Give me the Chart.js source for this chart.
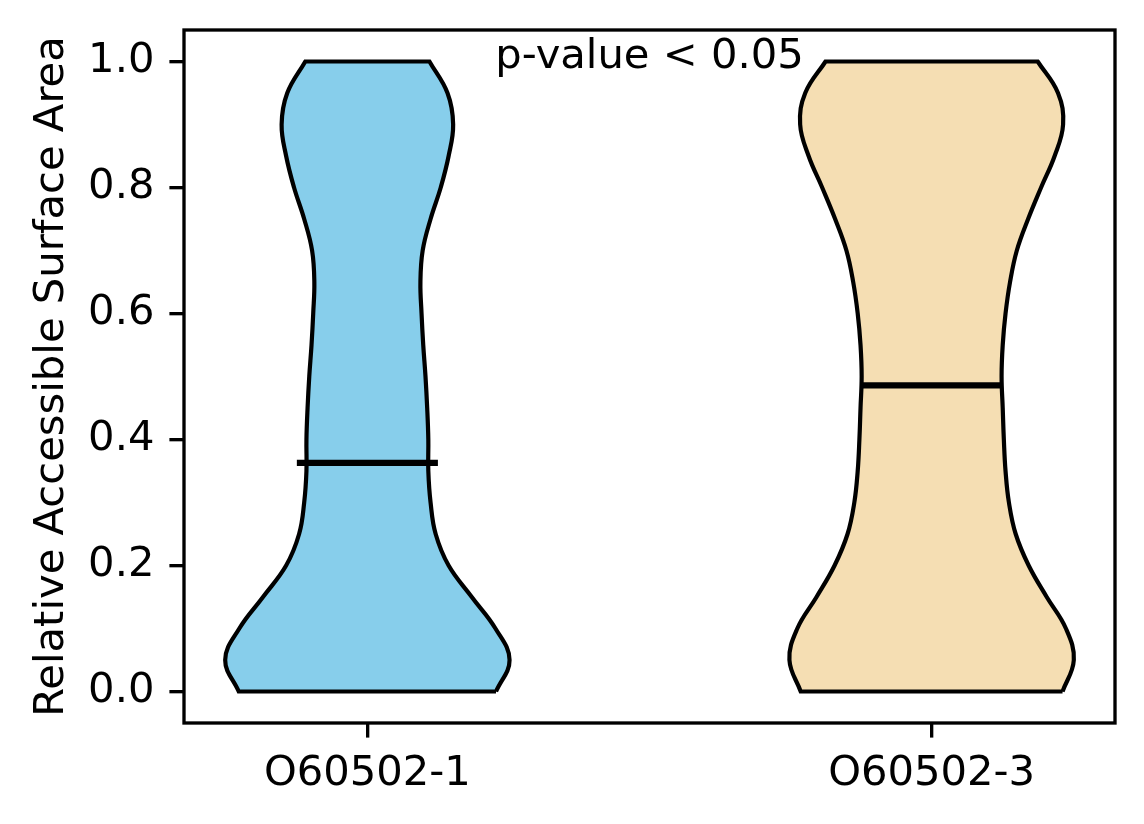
<!DOCTYPE html>
<html>
<head>
<meta charset="utf-8">
<script src="https://cdn.jsdelivr.net/npm/chart.js@4/dist/chart.umd.min.js"></script>
<style>
  body { margin: 0; background: #fff; }
  #wrap { width: 1144px; height: 824px; }
</style>
</head>
<body>
<div id="wrap"><canvas id="violin" width="1144" height="824"></canvas></div>
<script>
// groups and where they sit on the x axis
const categories = ['O60502-1', 'O60502-3'];
const positions = [1, 2];
const colors = ['#87CEEB', '#F5DEB3'];

// RSA levels at which the violin outline was read
const rsaLevels = [0, 0.05, 0.10, 0.15, 0.20, 0.25, 0.30, 0.35, 0.40, 0.45, 0.50,
                   0.55, 0.60, 0.65, 0.70, 0.75, 0.80, 0.85, 0.90, 0.95, 1.0];
// half width of each violin at those levels (x axis units)
const halfWidth1 = [0.228, 0.252, 0.227, 0.185, 0.144, 0.121, 0.112, 0.108, 0.108, 0.106, 0.103,
                    0.099, 0.096, 0.094, 0.098, 0.112, 0.130, 0.144, 0.152, 0.142, 0.110];
const halfWidth3 = [0.232, 0.252, 0.238, 0.204, 0.172, 0.149, 0.137, 0.131, 0.128, 0.126, 0.124,
                    0.126, 0.131, 0.139, 0.151, 0.171, 0.194, 0.218, 0.233, 0.224, 0.188];
const medians = [0.363, 0.486];

const yTicks = [0, 0.2, 0.4, 0.6, 0.8, 1.0];
const annotation = 'p-value < 0.05';

const FONT = 'DejaVu Sans';
const FS = 41.7;

// outline: right side going up, left side coming down, corners doubled so they stay sharp
const violinPoints = (pos, hw) => {
    const pts = [];
    const n = rsaLevels.length;
    pts.push({x: pos + hw[0], y: rsaLevels[0]});
    for (let i = 0; i < n; i++) pts.push({x: pos + hw[i], y: rsaLevels[i]});
    pts.push({x: pos + hw[n - 1], y: rsaLevels[n - 1]});
    pts.push({x: pos - hw[n - 1], y: rsaLevels[n - 1]});
    for (let i = n - 1; i >= 0; i--) pts.push({x: pos - hw[i], y: rsaLevels[i]});
    pts.push({x: pos - hw[0], y: rsaLevels[0]});
    pts.push({x: pos + hw[0], y: rsaLevels[0]});
    return pts;
};

const widths = [halfWidth1, halfWidth3];
const datasets = [];
positions.forEach((pos, i) => {
    datasets.push({
        label: categories[i],
        data: violinPoints(pos, widths[i]),
        backgroundColor: colors[i],
        borderColor: '#000',
        borderWidth: 4.2,
        fill: 'shape',
        tension: 0.4,
        pointRadius: 0,
        order: 2
    });
});
positions.forEach((pos, i) => {
    datasets.push({
        label: categories[i] + ' median',
        data: [{x: pos - 0.125, y: medians[i]}, {x: pos + 0.125, y: medians[i]}],
        borderColor: '#000',
        borderWidth: 6.25,
        borderCapStyle: 'butt',
        fill: false,
        pointRadius: 0,
        order: 1
    });
});

const framePlugin = {
    id: 'frame',
    afterDraw(chart) {
        const {ctx, chartArea: a, scales} = chart;
        ctx.save();
        ctx.strokeStyle = '#000';
        ctx.lineWidth = 3.33;
        ctx.strokeRect(a.left, a.top, a.right - a.left, a.bottom - a.top);
        ctx.fillStyle = '#000';
        ctx.font = FS + 'px "' + FONT + '"';
        ctx.textAlign = 'center';
        ctx.textBaseline = 'alphabetic';
        ctx.fillText(annotation, scales.x.getPixelForValue(1.5), scales.y.getPixelForValue(0.989));
        ctx.restore();
    }
};

const config = {
    type: 'line',
    data: {datasets: datasets},
    options: {
        responsive: false,
        animation: false,
        devicePixelRatio: 1,
        events: [],
        layout: {padding: {top: 30, right: 29, left: 0, bottom: 0}},
        plugins: {legend: {display: false}, tooltip: {enabled: false}},
        scales: {
            x: {
                type: 'linear',
                min: 0.675,
                max: 2.325,
                afterBuildTicks: (axis) => { axis.ticks = positions.map(v => ({value: v})); },
                afterFit: (axis) => {
                    axis.height = 101;
                    axis.paddingLeft = 0;
                    axis.paddingRight = 0;
                },
                border: {display: false},
                grid: {drawOnChartArea: false, drawTicks: true, tickLength: 14.6, lineWidth: 3.33, color: '#000'},
                ticks: {
                    color: '#000',
                    padding: 12,
                    maxRotation: 0,
                    font: {family: FONT, size: FS},
                    callback: (v) => categories[positions.indexOf(v)]
                }
            },
            y: {
                type: 'linear',
                min: -0.05,
                max: 1.05,
                afterBuildTicks: (axis) => { axis.ticks = yTicks.map(v => ({value: v})); },
                afterFit: (axis) => {
                    axis.width = 184;
                    axis.paddingTop = 0;
                    axis.paddingBottom = 0;
                },
                border: {display: false},
                grid: {drawOnChartArea: false, drawTicks: true, tickLength: 14.6, lineWidth: 3.33, color: '#000'},
                title: {
                    display: true,
                    text: 'Relative Accessible Surface Area',
                    color: '#000',
                    font: {family: FONT, size: FS, lineHeight: 1.2},
                    padding: {top: 27, bottom: 0}
                },
                ticks: {
                    color: '#000',
                    padding: 15,
                    font: {family: FONT, size: FS},
                    callback: (v) => v.toFixed(1)
                }
            }
        }
    },
    plugins: [framePlugin]
};

window.onload = function () {
    const ctx = document.querySelector('#violin').getContext('2d');
    const myChart = new Chart(ctx, config);
};
</script>
</body>
</html>
